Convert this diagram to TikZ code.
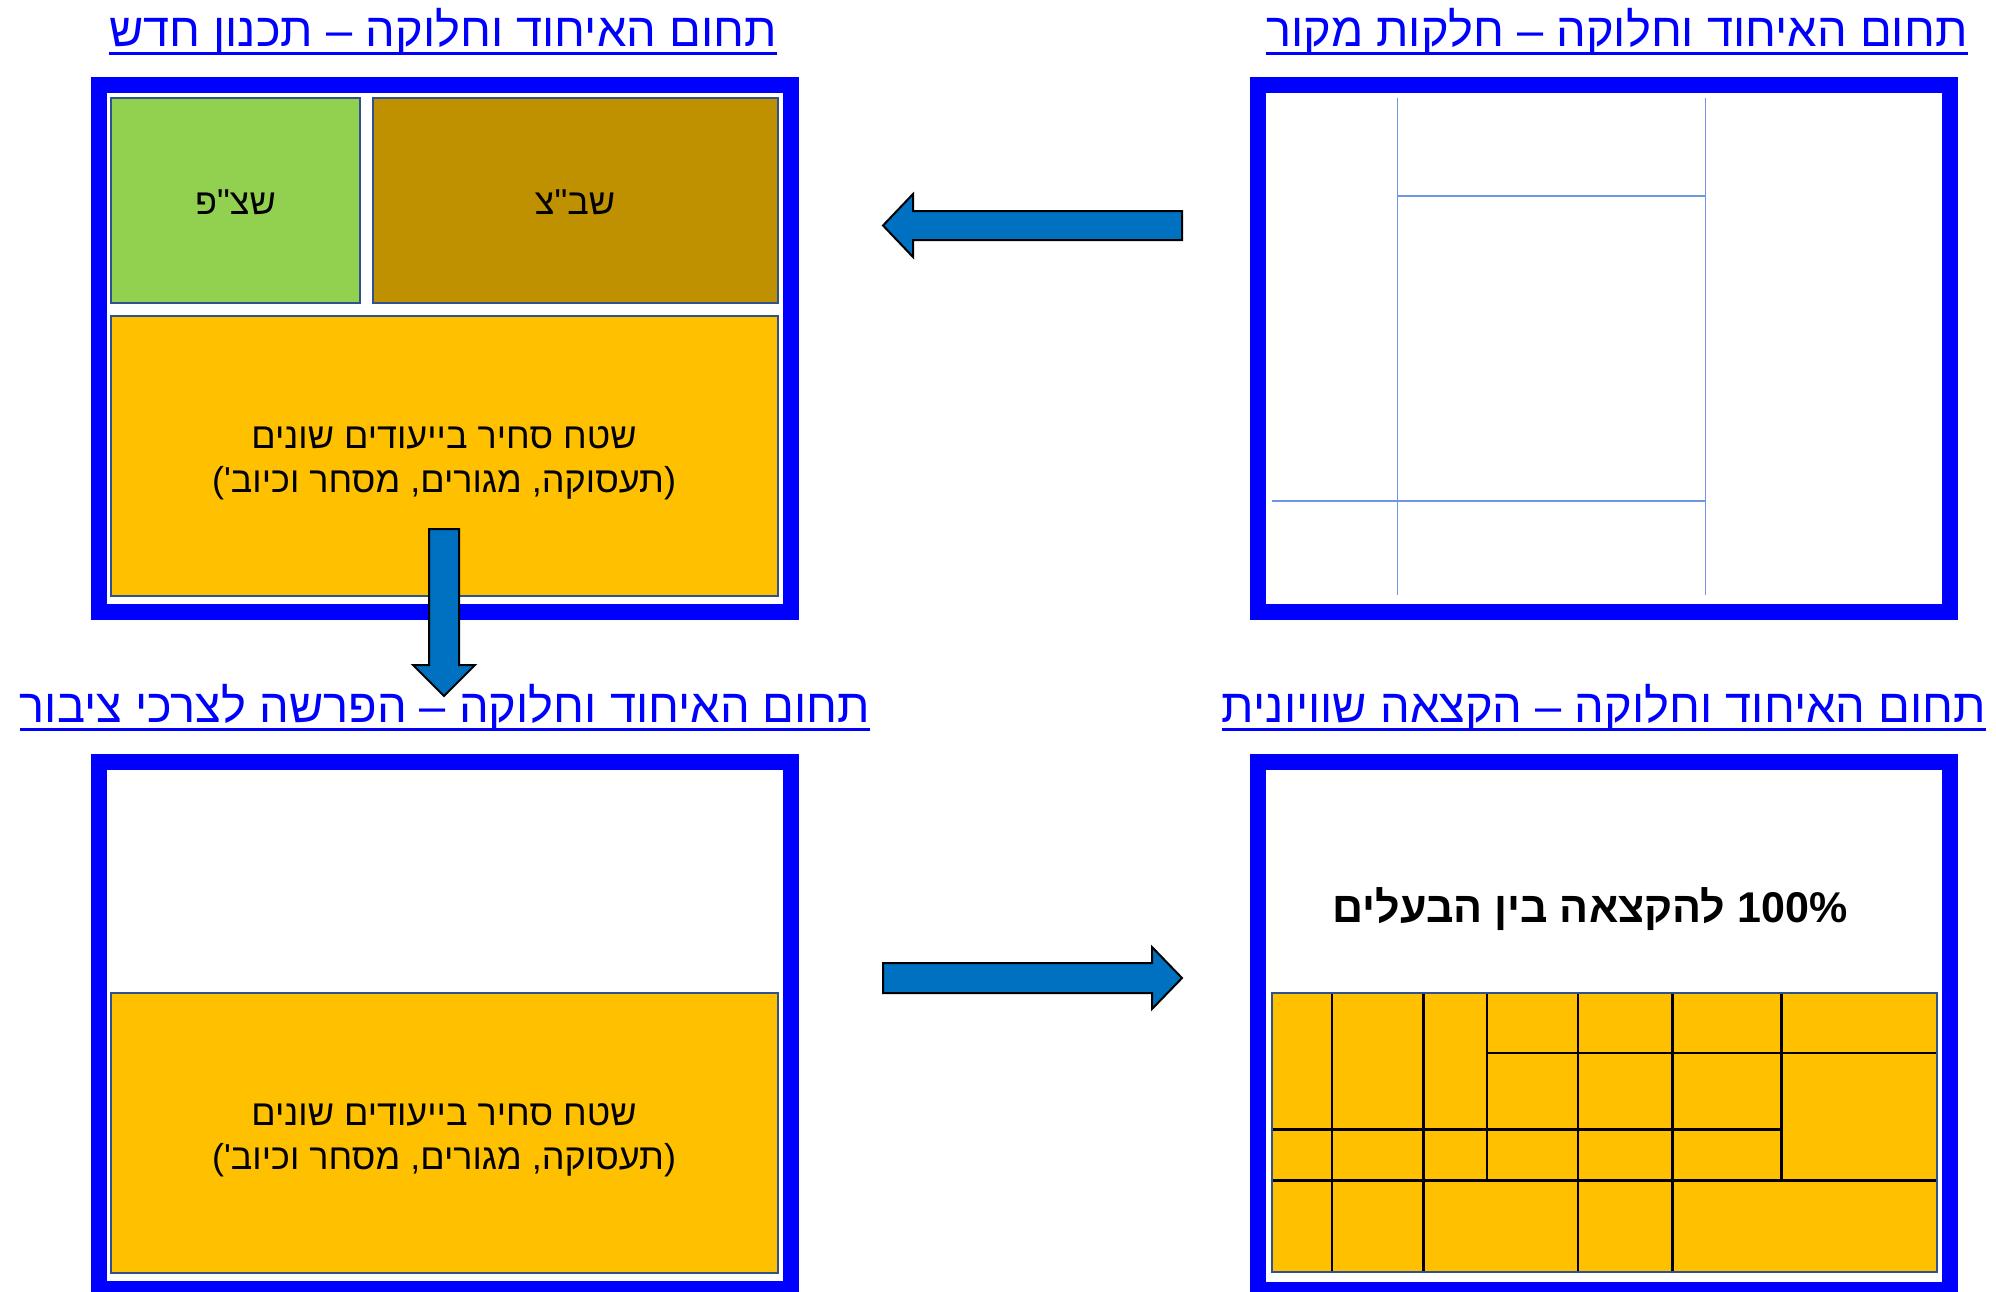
\documentclass[tikz,border=0pt]{standalone}
\usepackage{fontspec}
\setmainfont{Liberation Sans}
\newfontfamily\heb[Script=Hebrew]{Liberation Sans}
\TeXXeTstate=1
\definecolor{frameblue}{RGB}{0,0,255}
\definecolor{arrowblue}{RGB}{0,112,192}
\definecolor{boxedge}{RGB}{47,82,143}
\definecolor{lotyellow}{RGB}{255,192,0}
\definecolor{lotgreen}{RGB}{146,208,80}
\definecolor{lotbrown}{RGB}{191,144,0}
\definecolor{parcelline}{RGB}{110,150,225}
\begin{document}
\begin{tikzpicture}[x=1pt,y=-1pt,
  panel/.style={draw=frameblue, line width=16pt},
  lot/.style={draw=boxedge, line width=2pt},
  grid/.style={draw=black, line width=2.5pt},
  parcel/.style={draw=parcelline, line width=1.5pt},
  title/.style={text=frameblue, font=\heb\fontsize{47}{56}\selectfont, inner sep=0pt, anchor=base},
  uline/.style={draw=frameblue, line width=3pt},
  lottext/.style={font=\heb\fontsize{36}{42}\selectfont, inner sep=0pt, anchor=base},
  bigtext/.style={font=\heb\bfseries\fontsize{43}{50}\selectfont, inner sep=0pt, anchor=base},
  blockarrow/.style={fill=arrowblue, draw=black, line width=2pt, line join=miter}]
\useasboundingbox (0,0) rectangle (1996,1291);
\clip (0,0) rectangle (1996,1291);
\fill[white] (0,0) rectangle (1996,1291);

% ---------- titles ----------
\node[title] (tTL) at (443,46) {\beginR תחום האיחוד וחלוקה – תכנון חדש\endR};
\node[title] (tTR) at (1617,46) {\beginR תחום האיחוד וחלוקה – חלקות מקור\endR};
\node[title] (tBL) at (445,722) {\beginR תחום האיחוד וחלוקה – הפרשה לצרכי ציבור\endR};
\node[title] (tBR) at (1604,722) {\beginR תחום האיחוד וחלוקה – הקצאה שוויונית\endR};
\foreach \t in {tTL,tTR,tBL,tBR}
  \draw[uline] ([yshift=-7pt]\t.base west) -- ([yshift=-7pt]\t.base east);

% ---------- top left: new plan ----------
\draw[panel] (99.3,85.4) rectangle (791.2,612);
\draw[lot, fill=lotgreen] (111,98) rectangle (360,303);
\draw[lot, fill=lotbrown] (373,98) rectangle (777.5,303);
\draw[lot, fill=lotyellow] (111,316) rectangle (777.5,595.5);
\node[lottext] (spp) at (235.5,214) {\beginR שצ"פ\endR};
\node[lottext] (sbc) at (575,214) {\beginR שב"צ\endR};
\node[lottext] (y1a) at (444,448) {\beginR שטח סחיר בייעודים שונים\endR};
\node[lottext] (y1b) at (444,492) {\beginR (תעסוקה, מגורים, מסחר וכיוב')\endR};

% ---------- top right: source parcels ----------
\draw[panel] (1257.5,85.4) rectangle (1950,612);
\draw[parcel] (1397.6,98.4) -- (1397.6,594.8);
\draw[parcel] (1705.3,98.4) -- (1705.3,594.8);
\draw[parcel] (1397.6,196) -- (1705.3,196);
\draw[parcel] (1271.5,501) -- (1705.3,501);

% ---------- bottom left: public allocation ----------
\draw[panel] (99.3,762.4) rectangle (791.2,1289);
\draw[lot, fill=lotyellow] (111,993) rectangle (777.5,1272.5);
\node[lottext] (y2a) at (444,1125) {\beginR שטח סחיר בייעודים שונים\endR};
\node[lottext] (y2b) at (444,1169) {\beginR (תעסוקה, מגורים, מסחר וכיוב')\endR};

% ---------- bottom right: equal allocation ----------
\draw[panel] (1257.5,762.4) rectangle (1950,1289.7);
\node[bigtext] (pct) at (1590,922) {\beginR\beginL 100\%\endL{} להקצאה בין הבעלים\endR};
\fill[lotyellow] (1271.5,992.7) rectangle (1937,1272);
\draw[grid] (1332.1,992.7) -- (1332.1,1272);
\draw[grid] (1423.5,992.7) -- (1423.5,1272);
\draw[grid] (1487,992.7) -- (1487,1180.3);
\draw[grid] (1577.8,992.7) -- (1577.8,1272);
\draw[grid] (1672.6,992.7) -- (1672.6,1272);
\draw[grid] (1781.5,992.7) -- (1781.5,1180.3);
\draw[grid] (1487,1053) -- (1937,1053);
\draw[grid] (1271.5,1129.7) -- (1781.5,1129.7);
\draw[grid] (1271.5,1180.3) -- (1937,1180.3);
\draw[lot] (1271.5,992.7) rectangle (1937,1272);

% ---------- block arrows ----------
\draw[blockarrow] (1182,211) -- (913,211) -- (913,194) -- (883,225.5) -- (913,257) -- (913,240) -- (1182,240) -- cycle;
\draw[blockarrow] (883,963) -- (1152,963) -- (1152,947) -- (1182,978) -- (1152,1009) -- (1152,993) -- (883,993) -- cycle;
\draw[blockarrow] (429,529) -- (459,529) -- (459,665) -- (475,665) -- (444,696) -- (413,665) -- (429,665) -- cycle;
\end{tikzpicture}
\end{document}
